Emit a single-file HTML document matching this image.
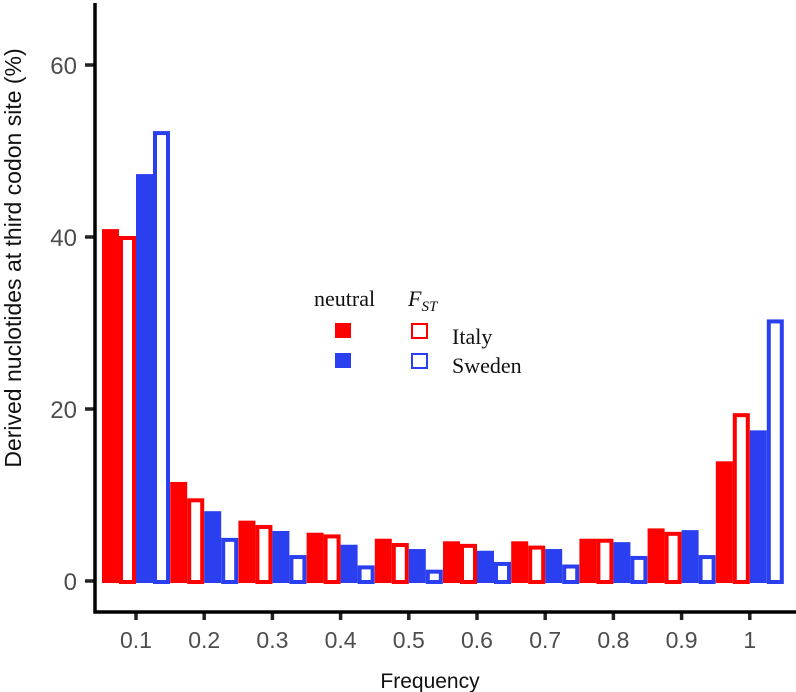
<!DOCTYPE html>
<html><head><meta charset="utf-8"><style>
html,body{margin:0;padding:0;background:#fff;}
svg{display:block;}
</style></head><body>
<svg id="chart" width="796" height="692" xmlns="http://www.w3.org/2000/svg">
<g id="bars"></g>
<g id="axes"></g>
<text x="0" y="0" transform="translate(21,258) rotate(-90)" text-anchor="middle" font-family="Liberation Sans, sans-serif" font-size="23" fill="#111">Derived nuclotides at third codon site (%)</text>
<text x="430" y="688" text-anchor="middle" font-family="Liberation Sans, sans-serif" font-size="21" fill="#111">Frequency</text>
<g font-family="Liberation Serif, serif" font-size="22" fill="#111">
<text x="314" y="306">neutral</text>
<text x="408" y="306" font-style="italic">F<tspan font-size="15" dy="5">ST</tspan></text>
<rect x="335" y="323" width="16" height="15" fill="#ff0000"/>
<rect x="335" y="353" width="16" height="15" fill="#2a3ff0"/>
<rect x="412" y="324" width="15" height="14" fill="none" stroke="#ff0000" stroke-width="2"/>
<rect x="412" y="354" width="15" height="14" fill="none" stroke="#2a3ff0" stroke-width="2"/>
<text x="452" y="344">Italy</text>
<text x="452" y="373">Sweden</text>
</g>
</svg>
<script>
const categories = ["0.1","0.2","0.3","0.4","0.5","0.6","0.7","0.8","0.9","1"];
const neutralItaly = [40.8,11.4,6.9,5.5,4.8,4.5,4.5,4.8,6.0,13.8];
const fstItaly = [40.0,9.5,6.4,5.3,4.3,4.2,4.0,4.8,5.6,19.4];
const neutralSweden = [47.2,8.0,5.7,4.1,3.6,3.4,3.6,4.4,5.8,17.4];
const fstSweden = [52.2,4.9,2.9,1.7,1.2,2.1,1.8,2.8,2.9,30.3];
const yTicks = [0,20,40,60];

const NS = "http://www.w3.org/2000/svg";
const y0 = 581, pxPerUnit = 8.6;
const x0 = 136, step = 68.2, bw = 17;
function yScale(v){ return y0 - v * pxPerUnit; }
function xScale(i){ return x0 + i * step; }
const bars = document.getElementById('bars');
const axes = document.getElementById('axes');
const series = [
  {vals: neutralItaly, color: "#ff0000", filled: true, name: "neutral-italy"},
  {vals: fstItaly, color: "#ff0000", filled: false, name: "fst-italy"},
  {vals: neutralSweden, color: "#2a3ff0", filled: true, name: "neutral-sweden"},
  {vals: fstSweden, color: "#2a3ff0", filled: false, name: "fst-sweden"}
];
categories.forEach((c, i) => {
  series.forEach((s, k) => {
    const left = xScale(i) - 2 * bw + k * bw;
    const top = yScale(s.vals[i]);
    const r = document.createElementNS(NS, 'rect');
    if (s.filled) {
      r.setAttribute('x', left); r.setAttribute('y', top - 1);
      r.setAttribute('width', bw); r.setAttribute('height', y0 + 2 - top + 1);
      r.setAttribute('fill', s.color);
    } else {
      r.setAttribute('x', left + 2); r.setAttribute('y', top + 1);
      r.setAttribute('width', bw - 4); r.setAttribute('height', y0 - top);
      r.setAttribute('fill', '#fff'); r.setAttribute('stroke', s.color); r.setAttribute('stroke-width', 4);
    }
    
    
    bars.appendChild(r);
  });
  const t = document.createElementNS(NS, 'line');
  t.setAttribute('x1', xScale(i)); t.setAttribute('x2', xScale(i));
  t.setAttribute('y1', 612); t.setAttribute('y2', 620);
  t.setAttribute('stroke', '#222'); t.setAttribute('stroke-width', 3.5);
  
  
  axes.appendChild(t);
  const lb = document.createElementNS(NS, 'text');
  lb.setAttribute('x', xScale(i)); lb.setAttribute('y', 648);
  lb.setAttribute('text-anchor', 'middle');
  lb.setAttribute('font-family', 'Liberation Sans, sans-serif');
  lb.setAttribute('font-size', '23'); lb.setAttribute('fill', '#4d4d4d');
  lb.textContent = c;
  
  
  axes.appendChild(lb);
});
yTicks.forEach(v => {
  const t = document.createElementNS(NS, 'line');
  t.setAttribute('x1', 85); t.setAttribute('x2', 95);
  t.setAttribute('y1', yScale(v)); t.setAttribute('y2', yScale(v));
  t.setAttribute('stroke', '#222'); t.setAttribute('stroke-width', 3.5);
  
  
  axes.appendChild(t);
  const lb = document.createElementNS(NS, 'text');
  lb.setAttribute('x', 77); lb.setAttribute('y', yScale(v) + 9);
  lb.setAttribute('text-anchor', 'end');
  lb.setAttribute('font-family', 'Liberation Sans, sans-serif');
  lb.setAttribute('font-size', '24'); lb.setAttribute('fill', '#4d4d4d');
  lb.textContent = v;
  
  
  axes.appendChild(lb);
});
const ya = document.createElementNS(NS, 'path');
ya.setAttribute('d', 'M95 3 L95 612 L796 612');
ya.setAttribute('fill', 'none'); ya.setAttribute('stroke', '#000'); ya.setAttribute('stroke-width', 3.5);


axes.appendChild(ya);
</script>
</body></html>
